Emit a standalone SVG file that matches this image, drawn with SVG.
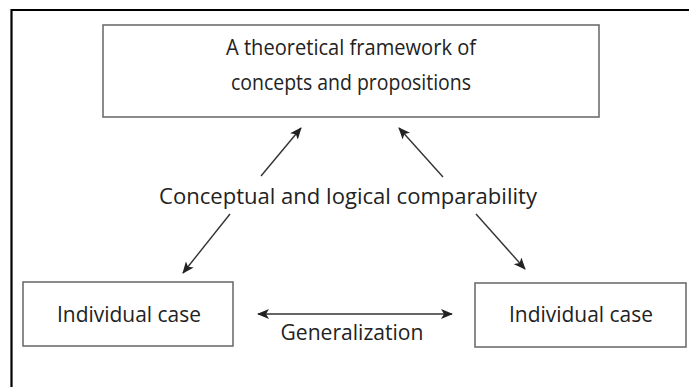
<svg xmlns="http://www.w3.org/2000/svg" width="689" height="387" viewBox="0 0 689 387">
<defs>
<style>
.frame{fill:none;stroke:#000;stroke-width:2.2}
.box{fill:#fff;stroke:#6e6e6e;stroke-width:1.6}
.t{font-family:"Open Sans","Noto Sans",sans-serif;font-size:21px;fill:#222;text-anchor:middle}
.c{stroke:#333;stroke-width:1.4;fill:none}
</style>
<marker id="ah" viewBox="0 0 12 10" refX="11" refY="5" markerWidth="12" markerHeight="10" markerUnits="userSpaceOnUse" orient="auto-start-reverse">
<path d="M0,0 L12,5 L0,10 L3,5 Z" fill="#222"/>
</marker>
</defs>
<rect width="689" height="387" fill="#fff"/>
<path class="frame" d="M11.5,387 V10 H689"/>
<g id="theory">
<rect class="box" x="103" y="25" width="496" height="92"/>
<text class="t" x="351" y="55" textLength="250" lengthAdjust="spacingAndGlyphs">A theoretical framework of</text>
<text class="t" x="351" y="90" textLength="240" lengthAdjust="spacingAndGlyphs">concepts and propositions</text>
</g>
<g id="comparability">
<text class="t" x="348" y="204" textLength="378" lengthAdjust="spacingAndGlyphs">Conceptual and logical comparability</text>
</g>
<g id="case-left">
<rect class="box" x="23" y="282" width="210" height="64"/>
<text class="t" x="129" y="322" textLength="144" lengthAdjust="spacingAndGlyphs">Individual case</text>
</g>
<g id="case-right">
<rect class="box" x="475" y="283" width="211" height="64"/>
<text class="t" x="581" y="322" textLength="144" lengthAdjust="spacingAndGlyphs">Individual case</text>
</g>
<g id="connectors">
<line class="c" x1="261" y1="176" x2="301" y2="128" marker-end="url(#ah)"/>
<line class="c" x1="443" y1="177" x2="399" y2="128" marker-end="url(#ah)"/>
<line class="c" x1="230" y1="214" x2="183" y2="273" marker-end="url(#ah)"/>
<line class="c" x1="476" y1="214" x2="525" y2="269" marker-end="url(#ah)"/>
<line class="c" x1="258" y1="314" x2="452" y2="314" marker-start="url(#ah)" marker-end="url(#ah)"/>
<text class="t" x="352" y="340" textLength="143" lengthAdjust="spacingAndGlyphs">Generalization</text>
</g>
</svg>
